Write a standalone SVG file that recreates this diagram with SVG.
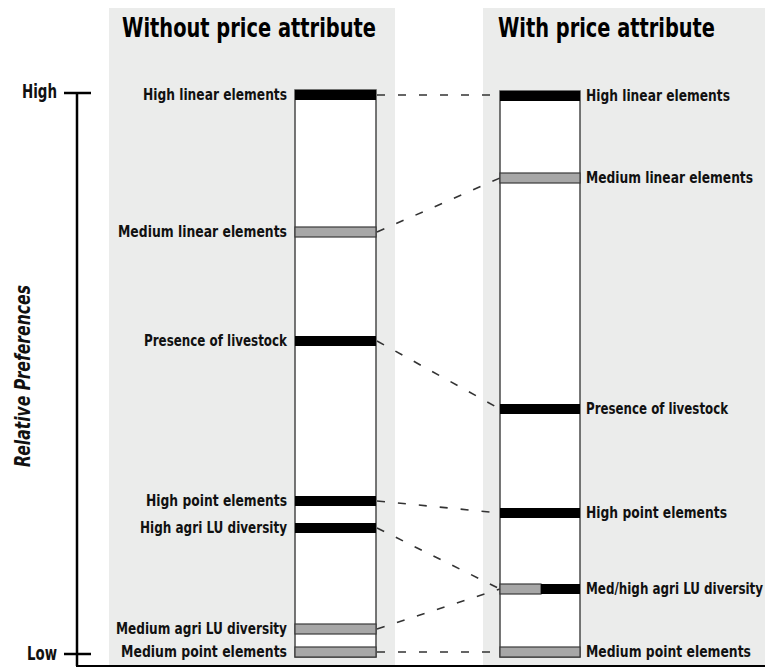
<svg xmlns="http://www.w3.org/2000/svg" width="765" height="668" viewBox="0 0 765 668">
<style>
.panel{fill:#ebeceb}
.bar{fill:#fff;stroke:#4a4a4a;stroke-width:1.5}
.blk{fill:#000}
.gry{fill:#a7a7a7;stroke:#3a3a3a;stroke-width:1.2}
.lbl{font-family:"DejaVu Sans Condensed","DejaVu Sans",sans-serif;font-weight:bold;font-size:16.5px;fill:#111}
.hd{font-family:"DejaVu Sans Condensed","DejaVu Sans",sans-serif;font-weight:bold;font-size:27px;fill:#000}
.ax{stroke:#000;stroke-width:2.5;fill:none}
.dash{stroke:#333;stroke-width:1.6;stroke-dasharray:8 13;fill:none}
</style>
<rect width="765" height="668" fill="#fff"/>
<g id="panels">
<rect class="panel" x="109" y="8" width="286" height="658"/>
<rect class="panel" x="483" y="8" width="282" height="658"/>
</g>
<g id="headings">
<text class="hd" transform="translate(122,37) scale(0.68,1)" textLength="373.5" lengthAdjust="spacingAndGlyphs">Without price attribute</text>
<text class="hd" transform="translate(498,37) scale(0.68,1)" textLength="319.1" lengthAdjust="spacingAndGlyphs">With price attribute</text>
</g>
<g id="axis">
<line class="ax" x1="77" y1="93" x2="77" y2="666"/>
<line class="ax" x1="64" y1="93" x2="91" y2="93"/>
<line class="ax" x1="64" y1="654" x2="91" y2="654"/>
<line x1="76" y1="666" x2="765" y2="666" stroke="#000" stroke-width="2"/>
<text class="lbl" style="font-size:19px" x="22" y="98" textLength="35" lengthAdjust="spacingAndGlyphs">High</text>
<text class="lbl" style="font-size:19px" x="27" y="660" textLength="30" lengthAdjust="spacingAndGlyphs">Low</text>
<text class="lbl" style="font-size:22px;font-style:italic" transform="translate(30,376) rotate(-90)" x="-91" y="0" textLength="182" lengthAdjust="spacingAndGlyphs">Relative Preferences</text>
</g>
<g id="bar-without">
<rect class="bar" x="295" y="90" width="81" height="567"/>
<rect class="blk" x="295" y="90" width="81" height="10"/>
<rect class="gry" x="295" y="227" width="81" height="10"/>
<rect class="blk" x="295" y="336" width="81" height="10"/>
<rect class="blk" x="295" y="496" width="81" height="10"/>
<rect class="blk" x="295" y="523" width="81" height="10"/>
<rect class="gry" x="295" y="624" width="81" height="10"/>
<rect class="gry" x="295" y="647" width="81" height="10"/>
</g>
<g id="labels-without" text-anchor="end">
<text class="lbl" transform="translate(287,100) scale(0.7,1)" textLength="205.7" lengthAdjust="spacingAndGlyphs">High linear elements</text>
<text class="lbl" transform="translate(287,237) scale(0.7,1)" textLength="241.4" lengthAdjust="spacingAndGlyphs">Medium linear elements</text>
<text class="lbl" transform="translate(287,346) scale(0.7,1)" textLength="204.3" lengthAdjust="spacingAndGlyphs">Presence of livestock</text>
<text class="lbl" transform="translate(287,506) scale(0.7,1)" textLength="201.4" lengthAdjust="spacingAndGlyphs">High point elements</text>
<text class="lbl" transform="translate(287,533) scale(0.7,1)" textLength="210" lengthAdjust="spacingAndGlyphs">High agri LU diversity</text>
<text class="lbl" transform="translate(287,634) scale(0.7,1)" textLength="244.3" lengthAdjust="spacingAndGlyphs">Medium agri LU diversity</text>
<text class="lbl" transform="translate(287,657) scale(0.7,1)" textLength="237.1" lengthAdjust="spacingAndGlyphs">Medium point elements</text>
</g>
<g id="bar-with">
<rect class="bar" x="500" y="91" width="80" height="566"/>
<rect class="blk" x="500" y="91" width="80" height="10"/>
<rect class="gry" x="500" y="173" width="80" height="10"/>
<rect class="blk" x="500" y="404" width="80" height="10"/>
<rect class="blk" x="500" y="508" width="80" height="10"/>
<rect class="gry" x="500" y="584" width="41" height="10"/>
<rect class="blk" x="541" y="584" width="39" height="10"/>
<rect class="gry" x="500" y="647" width="80" height="10"/>
</g>
<g id="labels-with">
<text class="lbl" transform="translate(586,101) scale(0.7,1)" textLength="205.7" lengthAdjust="spacingAndGlyphs">High linear elements</text>
<text class="lbl" transform="translate(586,183) scale(0.7,1)" textLength="238.6" lengthAdjust="spacingAndGlyphs">Medium linear elements</text>
<text class="lbl" transform="translate(586,414) scale(0.7,1)" textLength="202.9" lengthAdjust="spacingAndGlyphs">Presence of livestock</text>
<text class="lbl" transform="translate(586,518) scale(0.7,1)" textLength="201.4" lengthAdjust="spacingAndGlyphs">High point elements</text>
<text class="lbl" transform="translate(586,594) scale(0.7,1)" textLength="252.9" lengthAdjust="spacingAndGlyphs">Med/high agri LU diversity</text>
<text class="lbl" transform="translate(586,657) scale(0.7,1)" textLength="235.7" lengthAdjust="spacingAndGlyphs">Medium point elements</text>
</g>
<g id="connectors">
<line class="dash" x1="377" y1="95" x2="500" y2="95"/>
<line class="dash" x1="377" y1="232" x2="500" y2="178"/>
<line class="dash" x1="377" y1="341" x2="500" y2="409"/>
<line class="dash" x1="377" y1="501" x2="500" y2="513"/>
<line class="dash" x1="377" y1="528" x2="500" y2="589"/>
<line class="dash" x1="377" y1="629" x2="500" y2="589"/>
<line class="dash" x1="377" y1="652" x2="500" y2="652"/>
</g>
</svg>
